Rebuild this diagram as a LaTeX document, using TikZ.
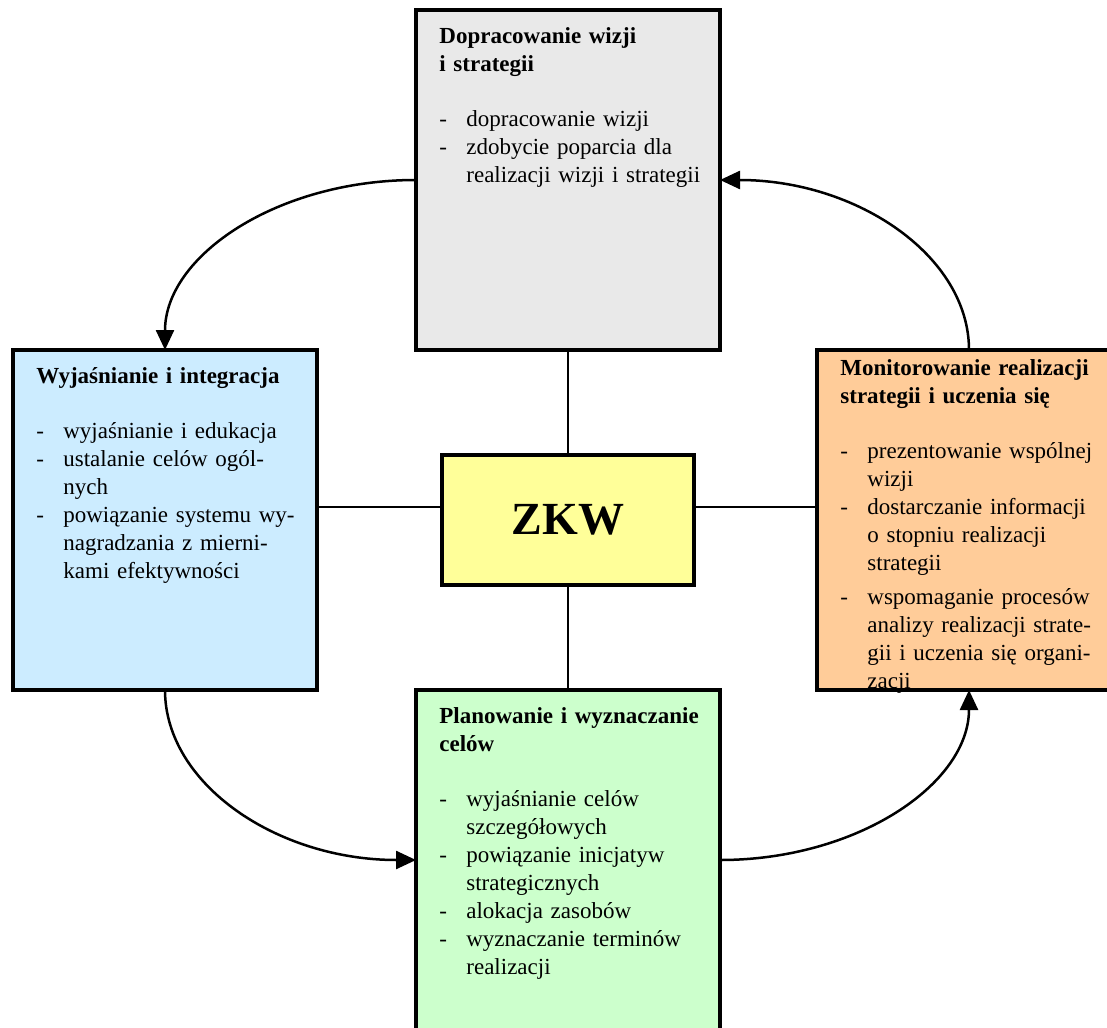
\documentclass[tikz,border=0pt]{standalone}
\usepackage{fontspec}
\setmainfont{Liberation Serif}
\usetikzlibrary{arrows.meta,calc,positioning}
\definecolor{szary}{HTML}{E9E9E9}
\definecolor{niebieski}{HTML}{CCECFF}
\definecolor{pomarancz}{HTML}{FFCC99}
\definecolor{zielony}{HTML}{CCFFCC}
\definecolor{zolty}{HTML}{FFFF99}
\setlength{\parindent}{0pt}
\newcommand{\naglowek}[1]{\strut\textbf{#1}\par\vspace{13.5pt}}
\newcommand{\punkt}[1]{\par\hangindent=13.5pt\hangafter=1\noindent\makebox[13.5pt][l]{-}#1\par}

\begin{document}
\begin{tikzpicture}[x=0.5pt, y=-0.5pt,
  blok/.style={draw, line width=1.7pt, inner sep=0pt, outer sep=0pt, minimum width=152pt, minimum height=170pt},
  tekst/.style={anchor=north west, inner sep=0pt, text width=150pt, font=\fontsize{11.5}{14}\selectfont},
  laczn/.style={line width=1.4pt},
  strz/.style={line width=1.25pt, -{Triangle[length=10pt,width=9pt]}}]
\useasboundingbox (0,0) rectangle (1107,1027);
\clip (0,0) rectangle (1107,1027);
% bloki
\node[blok, fill=szary] (dop) at (568,180) {};
\node[blok, fill=niebieski] (wyj) at (165,520) {};
\node[blok, fill=pomarancz] (mon) at (969,520) {};
\node[blok, fill=zielony] (plan) at (568,860) {};
\node[draw, line width=1.7pt, fill=zolty, inner sep=0pt, outer sep=0pt, minimum width=126pt, minimum height=65pt] (zkw) at (568,520) {};
\node[font=\fontsize{23}{27}\selectfont\bfseries, anchor=base] (zkwnapis) at ([yshift=-7pt]zkw.center) {ZKW};
% polaczenia
\coordinate (os) at (568,507);
\draw[laczn] (dop.south) -- (zkw.north);
\draw[laczn] (zkw.south) -- (plan.north);
\draw[laczn] (wyj.east |- os) -- (zkw.west |- os);
\draw[laczn] (zkw.east |- os) -- (mon.west |- os);
% cykl
\draw[strz] (dop.west) .. controls +(-139,0) and +(0,-94) .. (wyj.north);
\draw[strz] (wyj.south) .. controls +(0,94) and +(-139,0) .. (plan.west);
\draw[strz] (plan.east) .. controls +(137,0) and +(0,94) .. (mon.south);
\draw[strz] (mon.north) .. controls +(0,-94) and +(137,0) .. (dop.east);
% teksty
\node[tekst] (doptekst) at ([shift={(23,13.7)}]dop.north west) {%
  \naglowek{Dopracowanie wizji\newline i strategii}
  \punkt{dopracowanie wizji}
  \punkt{zdobycie poparcia dla\newline realizacji wizji i strategii}};
\node[tekst] (wyjtekst) at ([shift={(23,13.7)}]wyj.north west) {%
  \naglowek{Wyjaśnianie i integracja}
  \punkt{wyjaśnianie i edukacja}
  \punkt{ustalanie celów ogól-\newline nych}
  \punkt{powiązanie systemu wy-\newline nagradzania z mierni-\newline kami efektywności}};
\node[tekst] (montekst) at ([shift={(23,5.7)}]mon.north west) {%
  \naglowek{Monitorowanie realizacji\newline strategii i uczenia się}
  \punkt{prezentowanie wspólnej\newline wizji}
  \punkt{dostarczanie informacji\newline o stopniu realizacji\newline strategii}
  \vspace{3pt}
  \punkt{wspomaganie procesów\newline analizy realizacji strate-\newline gii i uczenia się organi-\newline zacji}};
\node[tekst] (plantekst) at ([shift={(23,13.7)}]plan.north west) {%
  \naglowek{Planowanie i wyznaczanie\newline celów}
  \punkt{wyjaśnianie celów\newline szczegółowych}
  \punkt{powiązanie inicjatyw\newline strategicznych}
  \punkt{alokacja zasobów}
  \punkt{wyznaczanie terminów\newline realizacji}};
\end{tikzpicture}
\end{document}
